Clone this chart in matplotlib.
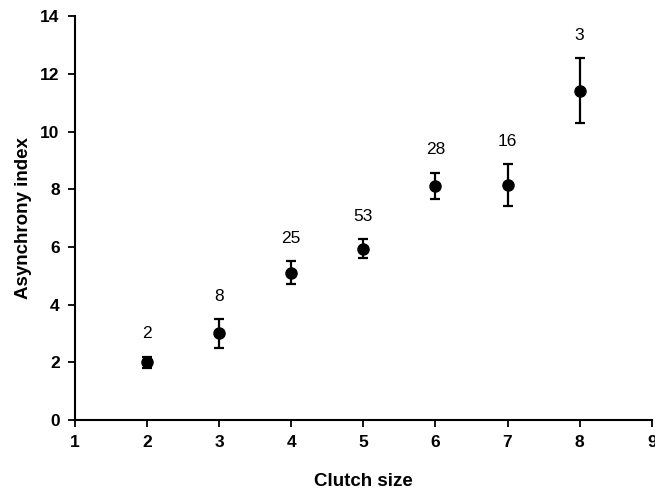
import matplotlib
matplotlib.use("Agg")
import matplotlib.pyplot as plt

clutch_size = [2, 3, 4, 5, 6, 7, 8]
asynchrony = [2.0, 3.0, 5.1, 5.93, 8.12, 8.15, 11.42]
err = [0.2, 0.5, 0.4, 0.33, 0.46, 0.73, 1.13]
n_labels = ["2", "8", "25", "53", "28", "16", "3"]

plt.rcParams['font.family'] = ['Liberation Sans', 'DejaVu Sans']

fig = plt.figure(figsize=(6.55, 4.91), dpi=100)
ax = fig.add_axes([0.1145, 0.1446, 0.8805, 0.8224])

ax.errorbar(clutch_size, asynchrony, yerr=err, fmt='o', color='black',
            markersize=8, capsize=3.5, elinewidth=1.6, capthick=1.6)

for x, y, e, lab in zip(clutch_size, asynchrony, err, n_labels):
    ax.annotate(lab, (x, y + e), xytext=(0, 11), textcoords='offset points',
                ha='center', va='bottom', fontsize=12.5)

ax.set_xlim(1, 9)
ax.set_ylim(0, 14)
ax.set_xticks(range(1, 10))
ax.set_yticks(range(0, 15, 2))
for s in ['top', 'right']:
    ax.spines[s].set_visible(False)
for s in ['left', 'bottom']:
    ax.spines[s].set_linewidth(1.5)
ax.tick_params(direction='out', length=5, width=1.3, labelsize=12.5, pad=6)
for lab in ax.get_xticklabels() + ax.get_yticklabels():
    lab.set_fontweight('bold')
ax.set_xlabel('Clutch size', fontsize=13.5, fontweight='bold', labelpad=16)
ax.set_ylabel('Asynchrony index', fontsize=13.5, fontweight='bold', labelpad=6)

fig.savefig('out.png', dpi=100)
